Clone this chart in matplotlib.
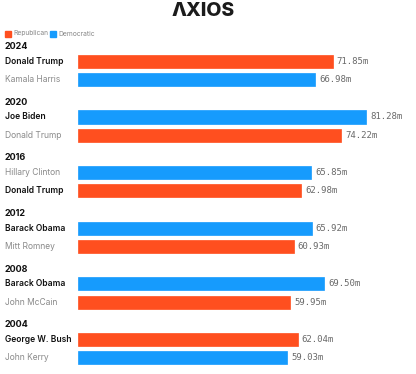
import matplotlib
matplotlib.use('Agg')
import matplotlib.pyplot as plt
import matplotlib.transforms as mtransforms

# data (millions of votes)
years = ['2024', '2020', '2016', '2012', '2008', '2004']
top_names = ['Donald Trump', 'Joe Biden', 'Hillary Clinton', 'Barack Obama', 'Barack Obama', 'George W. Bush']
top_votes = [71.85, 81.28, 65.85, 65.92, 69.50, 62.04]
top_party = ['R', 'D', 'D', 'D', 'D', 'R']
bot_names = ['Kamala Harris', 'Donald Trump', 'Donald Trump', 'Mitt Romney', 'John McCain', 'John Kerry']
bot_votes = [66.98, 74.22, 62.98, 60.93, 59.95, 59.03]
bot_party = ['D', 'R', 'R', 'R', 'R', 'D']
winner_is_top = [True, True, False, True, True, True]

RED = '#FF4F1F'
BLUE = '#169BFD'
colors = {'R': RED, 'D': BLUE}

W, H = 416, 374
fig = plt.figure(figsize=(W / 100, H / 100), dpi=100)
ax = fig.add_axes([78 / W, 0, 1 - 78 / W, 1])

# one row unit = 18.3 px, groups are 3.04 rows apart
step = 3.04
row_px = 18.3
top_px = 46.7
ax.set_ylim((H - top_px) / row_px, -top_px / row_px)
px_per_m = 3.543
ax.set_xlim(0, (W - 78) / px_per_m)
ax.axis('off')

# x in figure fraction for labels at left
lab = mtransforms.blended_transform_factory(fig.transFigure, ax.transData)
off = mtransforms.offset_copy(ax.transData, fig=fig, x=4, y=0, units='dots')

for g, yr in enumerate(years):
    y0 = g * step
    ax.text(5 / W, y0, yr, transform=lab, fontsize=6.5, fontweight='bold',
            family='Inter', va='center', ha='left', color='#111111')
    rows = [(top_names[g], top_votes[g], top_party[g], winner_is_top[g]),
            (bot_names[g], bot_votes[g], bot_party[g], not winner_is_top[g])]
    for k, (nm, v, p, win) in enumerate(rows):
        y = y0 + 0.8 + k
        ax.barh(y, v, height=0.72, color=colors[p], edgecolor=colors[p],
                linewidth=0.5)
        ax.text(5 / W, y, nm, transform=lab, fontsize=6.1, family='Inter',
                fontweight='semibold' if win else 'normal',
                color='#111111' if win else '#8a8a8a', va='center', ha='left')
        ax.text(v, y, '%.2fm' % v, transform=off, fontsize=6.5,
                family='DejaVu Sans Mono', color='#6a6a6a', va='center', ha='left')

# logo
fig.text(0.488, 1 - 11 / H, 'ΛXIOS', fontsize=14, fontweight='heavy',
         family='Inter', ha='center', va='center', color='#1b1b1b')

# legend
fig.patches.append(plt.Rectangle((5 / W, 1 - 36.5 / H), 6 / W, 6 / H,
                                 transform=fig.transFigure, color=RED))
fig.text(13 / W, 1 - 33.5 / H, 'Republican', fontsize=4.8, family='Inter',
         color='#888888', va='center')
fig.patches.append(plt.Rectangle((49.5 / W, 1 - 36.5 / H), 6 / W, 6 / H,
                                 transform=fig.transFigure, color=BLUE))
fig.text(58 / W, 1 - 33.5 / H, 'Democratic', fontsize=4.8, family='Inter',
         color='#888888', va='center')

fig.savefig('out.png', dpi=100)
